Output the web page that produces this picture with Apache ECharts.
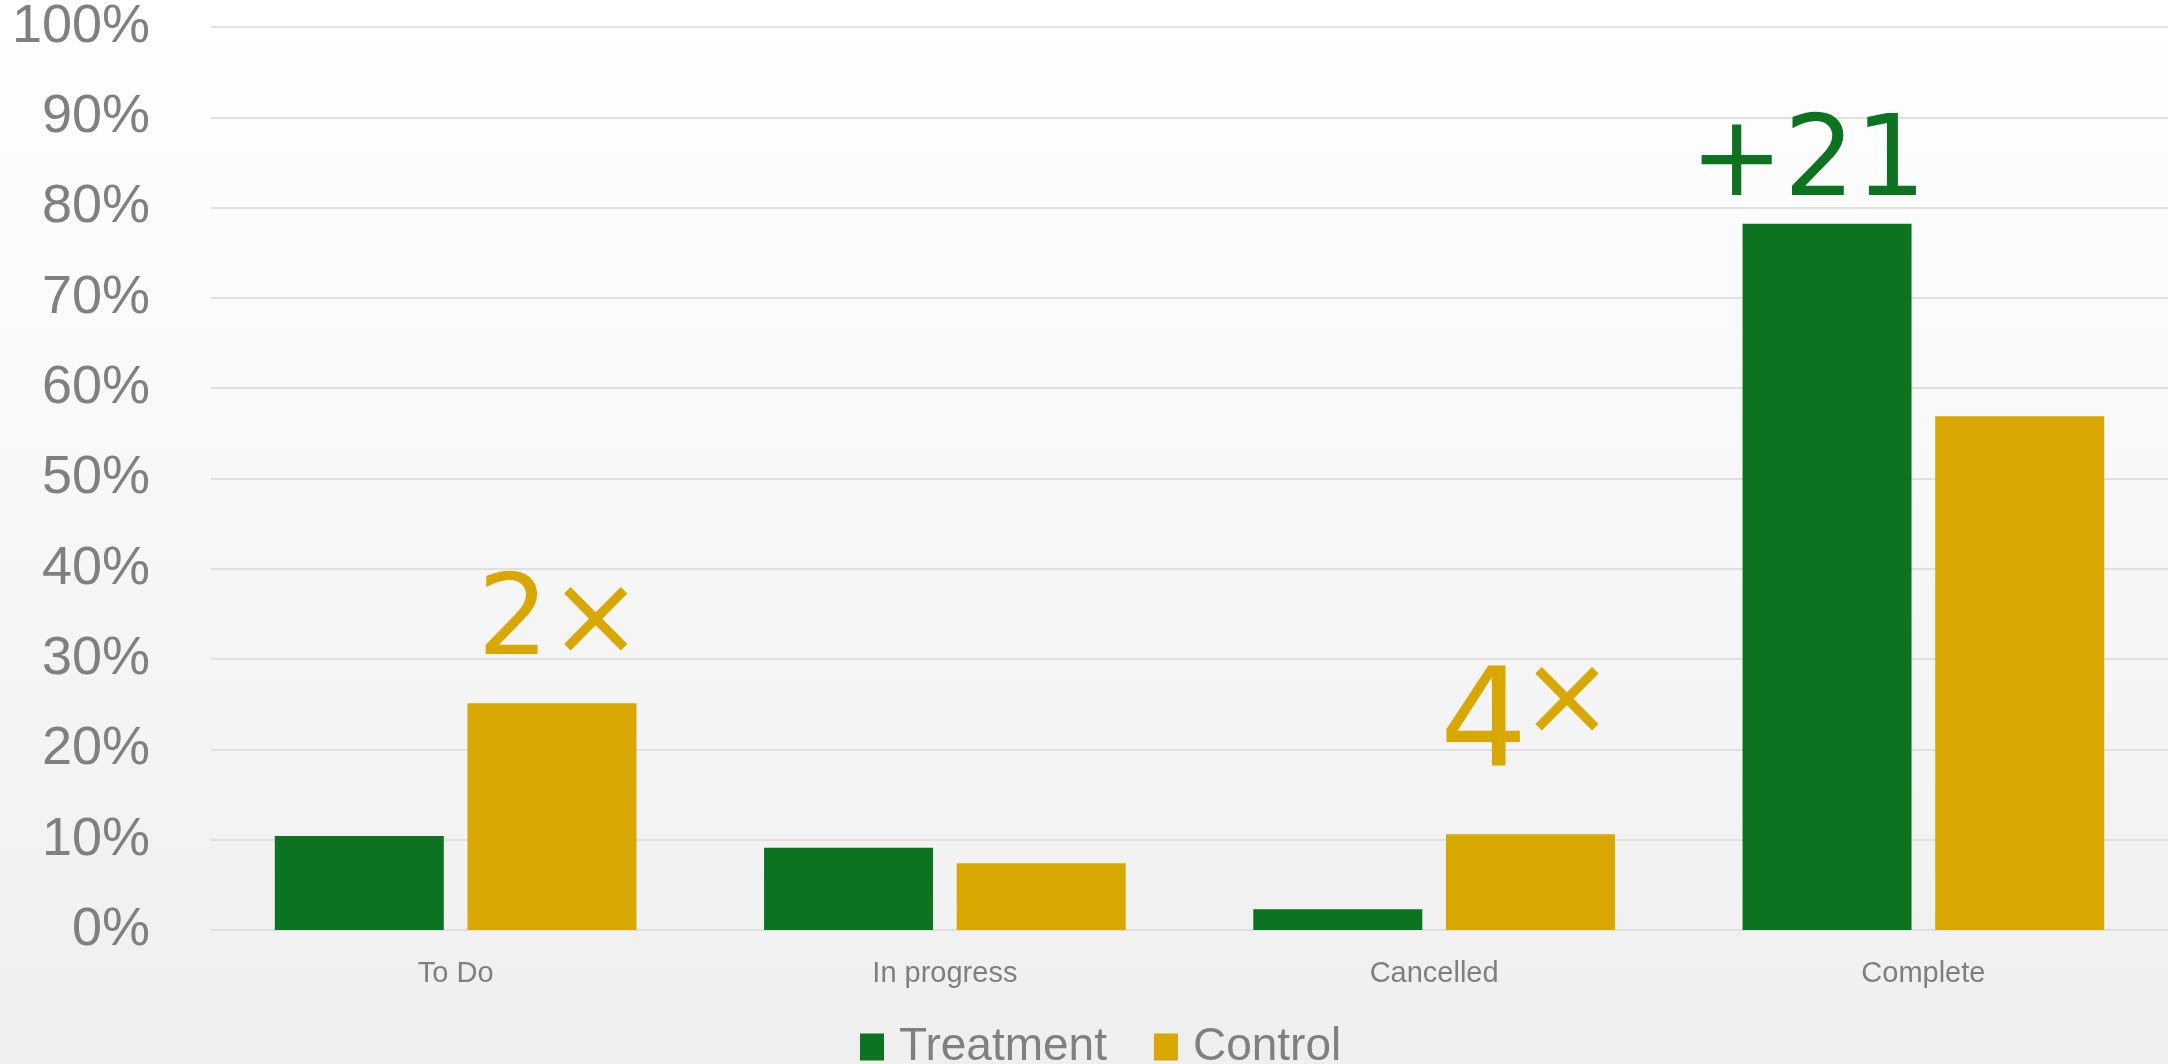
<!DOCTYPE html>
<html>
<head>
<meta charset="utf-8">
<script src="https://cdn.jsdelivr.net/npm/echarts@6/dist/echarts.min.js"></script>
<style>
html,body{margin:0;padding:0;}
#chart{width:2168px;height:1064px;}
</style>
</head>
<body>
<div id="chart"></div>
<script>
const categories = ['To Do', 'In progress', 'Cancelled', 'Complete'];
const seriesNames = ['Treatment', 'Control'];
const treatmentValues = [10.4, 9.1, 2.3, 78.2];
const controlValues = [25.1, 7.4, 10.6, 56.9];
const treatmentNotes = ['', '', '', '+21'];
const controlNotes = ['2×', '', '4×', ''];
const yTicks = { min: 0, max: 100, interval: 10 };

const GREEN = '#0E7321';
const GOLD = '#D9A800';

const noteStyle = {
  '2×': { distance: 22, offset: [8, 0] },
  '4×': { distance: 35, offset: [0, 0] },
  '+21': { distance: 2, offset: [-19, 0] }
};

function buildData(values, notes, color) {
  return values.map((v, i) => {
    const note = notes[i];
    if (!note) return v;
    const st = noteStyle[note] || { distance: 10, offset: [0, 0] };
    let label;
    if (note === '4×') {
      label = {
        show: true, position: 'top', distance: st.distance, offset: st.offset,
        formatter: '{big|4}{x|×}',
        rich: {
          big: { fontFamily: 'DejaVu Sans', fontSize: 138, color: color, verticalAlign: 'top', lineHeight: 138, width: 73 },
          x: { fontFamily: 'DejaVu Sans', fontSize: 112, color: color, verticalAlign: 'top', height: 88, lineHeight: 88 }
        }
      };
    } else {
      label = {
        show: true, position: 'top', distance: st.distance, offset: st.offset,
        formatter: note,
        fontFamily: 'DejaVu Sans', fontSize: 112, color: color, lineHeight: 112
      };
    }
    return { value: v, label: label };
  });
}

const chart = echarts.init(document.getElementById('chart'), null, { renderer: 'canvas' });
chart.setOption({
  animation: false,
  backgroundColor: {
    type: 'linear', x: 0, y: 0, x2: 0, y2: 1,
    colorStops: [{ offset: 0, color: '#ffffff' }, { offset: 1, color: '#efefef' }]
  },
  grid: { left: 211, right: 0, top: 25.6, bottom: 134, containLabel: false },
  legend: {
    data: seriesNames,
    left: 855,
    top: 1019,
    icon: 'rect',
    itemWidth: 24,
    itemHeight: 27,
    itemGap: 47,
    textStyle: {
      fontFamily: "'Liberation Sans', sans-serif",
      fontSize: 46,
      color: '#808080',
      padding: [0, 0, 0, 10]
    }
  },
  xAxis: {
    type: 'category',
    data: categories,
    axisLine: { show: false },
    axisTick: { show: false },
    axisLabel: {
      margin: 29,
      fontFamily: "'Liberation Sans', sans-serif",
      fontSize: 29,
      color: '#7f7f7f'
    }
  },
  yAxis: {
    type: 'value',
    min: yTicks.min,
    max: yTicks.max,
    interval: yTicks.interval,
    axisLine: { show: false },
    axisTick: { show: false },
    splitLine: { lineStyle: { color: '#e0e0e0', width: 2 } },
    axisLabel: {
      formatter: '{value}%',
      margin: 61,
      fontFamily: "'Liberation Sans', sans-serif",
      fontSize: 54,
      color: '#808080'
    }
  },
  series: [
    {
      name: seriesNames[0], type: 'bar', barWidth: 169, barGap: '14%',
      itemStyle: { color: GREEN },
      data: buildData(treatmentValues, treatmentNotes, GREEN)
    },
    {
      name: seriesNames[1], type: 'bar', barWidth: 169, barGap: '14%',
      itemStyle: { color: GOLD },
      data: buildData(controlValues, controlNotes, GOLD)
    }
  ]
});
</script>
</body>
</html>
